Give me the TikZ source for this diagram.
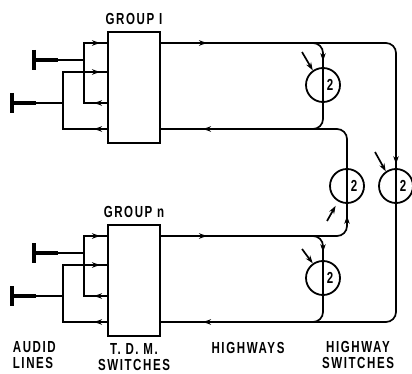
\documentclass[tikz,border=0pt]{standalone}
\usepackage{fontspec}
\setsansfont{Liberation Sans}[FakeStretch=0.72,LetterSpace=10]
\usetikzlibrary{arrows.meta,positioning,decorations.markings}

\begin{document}
\begin{tikzpicture}[x=1pt,y=-1pt,line width=1.7pt,
  tdm/.style={draw,line width=2.6pt,minimum width=52pt,minimum height=111pt,inner sep=0pt},
  hsw/.style={draw,circle,line width=1.8pt,minimum size=34pt,inner sep=0pt},
  lbl/.style={font=\sffamily\bfseries\fontsize{16}{16}\selectfont,align=center,inner sep=0pt},
  phone/.style={line width=4.5pt},
  arr/.style={postaction={decorate},decoration={markings,mark=at position #1 with {\arrow{Stealth[length=8pt,width=5.5pt]}}}},
  arrs/.style 2 args={postaction={decorate},decoration={markings,mark=at position #1 with {\arrow{Stealth[length=8pt,width=5.5pt]}},mark=at position #2 with {\arrow{Stealth[length=8pt,width=5.5pt]}}}},
  ctl/.style={-{Stealth[length=8pt,width=5.5pt]}}]
\useasboundingbox (0,0) rectangle (412,374);

% T.D.M. switches with their audio lines
\foreach \g/\Y/\t in {1/32/I,n/225/n}{
  \node[tdm] (box\g) at (134,\Y+55.5) {};
  \node[lbl,above=5pt of box\g] (grp\g) {GROUP \t};
  \coordinate (p\g1) at (108,\Y+11);
  \coordinate (p\g2) at (108,\Y+40);
  \coordinate (p\g3) at (108,\Y+71);
  \coordinate (p\g4) at (108,\Y+97);
  \coordinate (q\g1) at (84,\Y+11);
  \coordinate (q\g2) at (63,\Y+40);
  \coordinate (q\g3) at (84,\Y+71);
  \coordinate (q\g4) at (63,\Y+97);
  \coordinate (ha\g) at (34,\Y+28);
  \coordinate (hb\g) at (12,\Y+71);
  \coordinate (ba\g) at (84,\Y+28);
  \coordinate (bb\g) at (63,\Y+71);
  \coordinate (out\g) at (160,\Y+11);
  \coordinate (ret\g) at (160,\Y+97);
  \draw[arrs={14pt}{-8pt}] (p\g3) -- (q\g3) -- (q\g1) -- (p\g1);
  \draw[arrs={14pt}{-8pt}] (p\g4) -- (q\g4) -- (q\g2) -- (p\g2);
  \draw[phone] ([yshift=10pt]ha\g) -- ([yshift=-10pt]ha\g);
  \draw[line width=3.5pt] (ha\g) -- +(24,0);
  \draw (ha\g) -- (ba\g);
  \draw[phone] ([yshift=10pt]hb\g) -- ([yshift=-10pt]hb\g);
  \draw[line width=3.5pt] (hb\g) -- +(24,0);
  \draw (hb\g) -- (bb\g);
}

% highway switches
\node[hsw] (s1) at (323,85) {};
\node[hsw] (s2) at (347,186) {};
\node[hsw] (s3) at (396,186) {};
\node[hsw] (s4) at (323,278) {};
\foreach \s in {1,...,4}
  \node[lbl] (d\s) at ([xshift=7pt]s\s.center) {2};

\coordinate (j1) at (311,43);
\coordinate (j2) at (311,129);
\coordinate (j3) at (311,236);
\coordinate (j4) at (311,322);

\draw[rounded corners=10pt,arrs={47pt}{-4pt}] (out1) -| (s3.north);
\draw[rounded corners=10pt,arr=-6pt] (j1) -| (s1.north);
\draw[rounded corners=10pt] (s1.north) -- (s1.south) |- (j2);
\draw[rounded corners=10pt,arr=-43pt] (s2.south) -- (s2.north) |- (ret1);
\draw[rounded corners=10pt,arrs={47pt}{-12pt}] (outn) -| (s2.south);
\draw[rounded corners=10pt,arr=-8pt] (j3) -| (s4.north);
\draw[rounded corners=10pt] (s4.north) -- (s4.south) |- (j4);
\draw[rounded corners=10pt,arr=-43pt] (s3.north) -- (s3.south) |- (retn);

% control inputs
\coordinate (c1) at (302,52);
\coordinate (c2) at (327,221);
\coordinate (c3) at (375,152);
\coordinate (c4) at (302,249);
\draw[ctl] (c1) -- (s1.125);
\draw[ctl,shorten >=5pt] (c2) -- (s2.240);
\draw[ctl] (c3) -- (s3.125);
\draw[ctl] (c4) -- (s4.125);

% captions
\node[lbl,align=left,anchor=north west] (aud) at (12,341) {AUDID\\LINES};
\node[lbl,below=5pt of boxn] (tdmlbl) {T. D. M.\\SWITCHES};
\node[lbl] (hwy) at (248,348) {HIGHWAYS};
\node[lbl] (hswlbl) at (358,355) {HIGHWAY\\SWITCHES};
\end{tikzpicture}
\end{document}
